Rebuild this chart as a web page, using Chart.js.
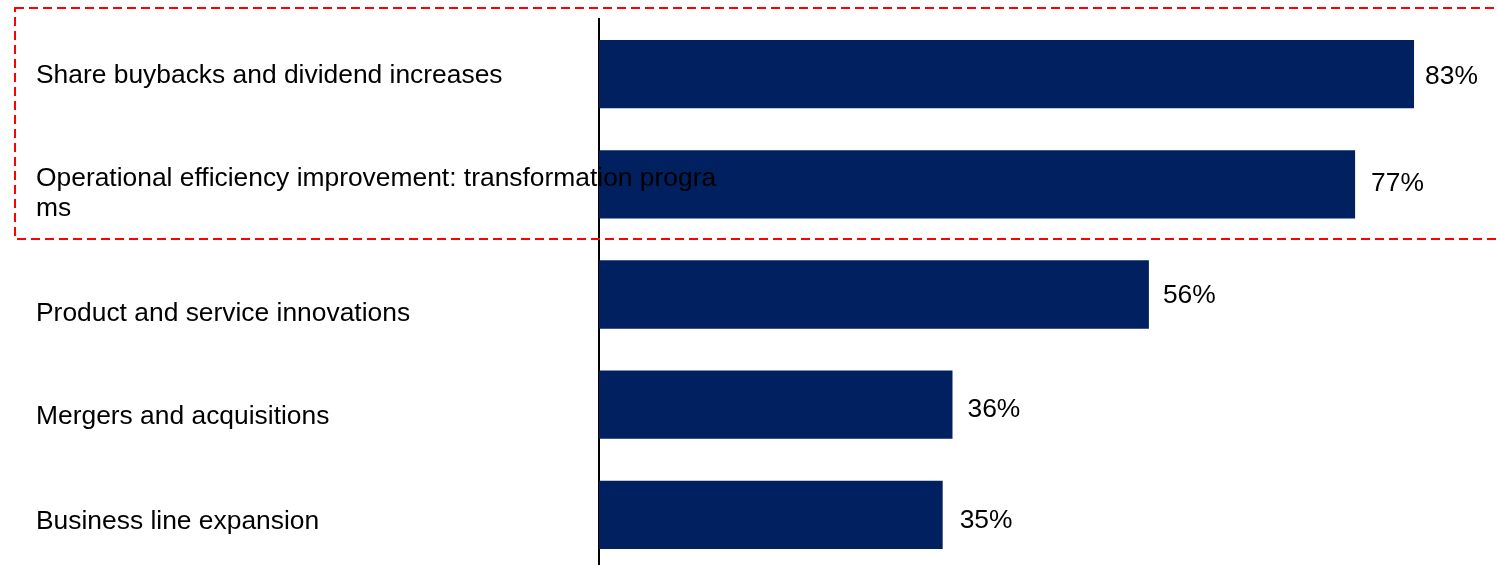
<!DOCTYPE html>
<html>
<head>
<meta charset="utf-8">
<script src="https://cdn.jsdelivr.net/npm/chart.js@4.4.1/dist/chart.umd.min.js"></script>
<style>
    html, body { margin: 0; padding: 0; background: #fff; overflow: hidden; }
    #wrap { position: absolute; left: 0; top: 0; width: 1497px; height: 570px; }
</style>
</head>
<body>
<div id="wrap"><canvas id="chart1" width="1497" height="570"></canvas></div>
<script>
// survey answers, share of respondents in %
var categories = [
    ["Share buybacks and dividend increases"],
    ["Operational efficiency improvement: transformation progra", "ms"],
    ["Product and service innovations"],
    ["Mergers and acquisitions"],
    ["Business line expansion"]
];
var values = [83, 77, 56, 36, 35];

// text nudges (px) so labels sit where the slide had them
var labelShift = [1.5, -5.5, 19.5, 12.5, 6.5];
var valueShift = [3, -1, 1.5, 5, 6];
var valueGap = [11, 16, 14, 15, 17];

var labelFont = "26.4px 'Liberation Sans', Arial, sans-serif";

var textPlugin = {
    id: "slideText",
    afterDatasetsDraw: function (chart) {
        var c = chart.ctx;
        var yScale = chart.scales.y;
        var meta = chart.getDatasetMeta(0);
        c.save();
        c.font = labelFont;
        c.fillStyle = "#000";
        c.textBaseline = "middle";
        c.textAlign = "left";
        for (var i = 0; i < categories.length; i++) {
            var y = yScale.getPixelForValue(i) + labelShift[i];
            for (var k = 0; k < categories[i].length; k++) {
                c.fillText(categories[i][k], 36, y + k * 30);
            }
            var bar = meta.data[i];
            c.fillText(values[i] + "%", bar.x + valueGap[i], bar.y + valueShift[i]);
        }
        c.restore();
    },
    afterDraw: function (chart) {
        // dashed highlight round the top two answers
        var c = chart.ctx;
        c.save();
        c.strokeStyle = "#ff0000";
        c.lineWidth = 2;
        c.setLineDash([9, 5]);
        c.strokeRect(15, 8, 1500, 231);
        c.restore();
    }
};

var ctx = document.getElementById("chart1").getContext("2d");
var myChart = new Chart(ctx, {
    type: "bar",
    data: {
        labels: categories,
        datasets: [
            {
                data: values,
                backgroundColor: "#002060",
                borderWidth: 0,
                barPercentage: 0.62,
                categoryPercentage: 1,
            },
        ],
    },
    options: {
        indexAxis: "y",
        responsive: false,
        animation: false,
        layout: { padding: { top: 19, right: 0, bottom: 0, left: 0 } },
        plugins: {
            legend: { display: false },
            tooltip: { enabled: false },
        },
        scales: {
            x: {
                display: false,
                min: 0,
                max: 91.45,
            },
            y: {
                grid: { display: false, drawTicks: false },
                ticks: { display: false },
                border: { display: true, color: "#000", width: 2 },
                afterFit: function (scale) {
                    scale.width = 599;
                },
            },
        },
    },
    plugins: [textPlugin],
});
</script>
</body>
</html>
